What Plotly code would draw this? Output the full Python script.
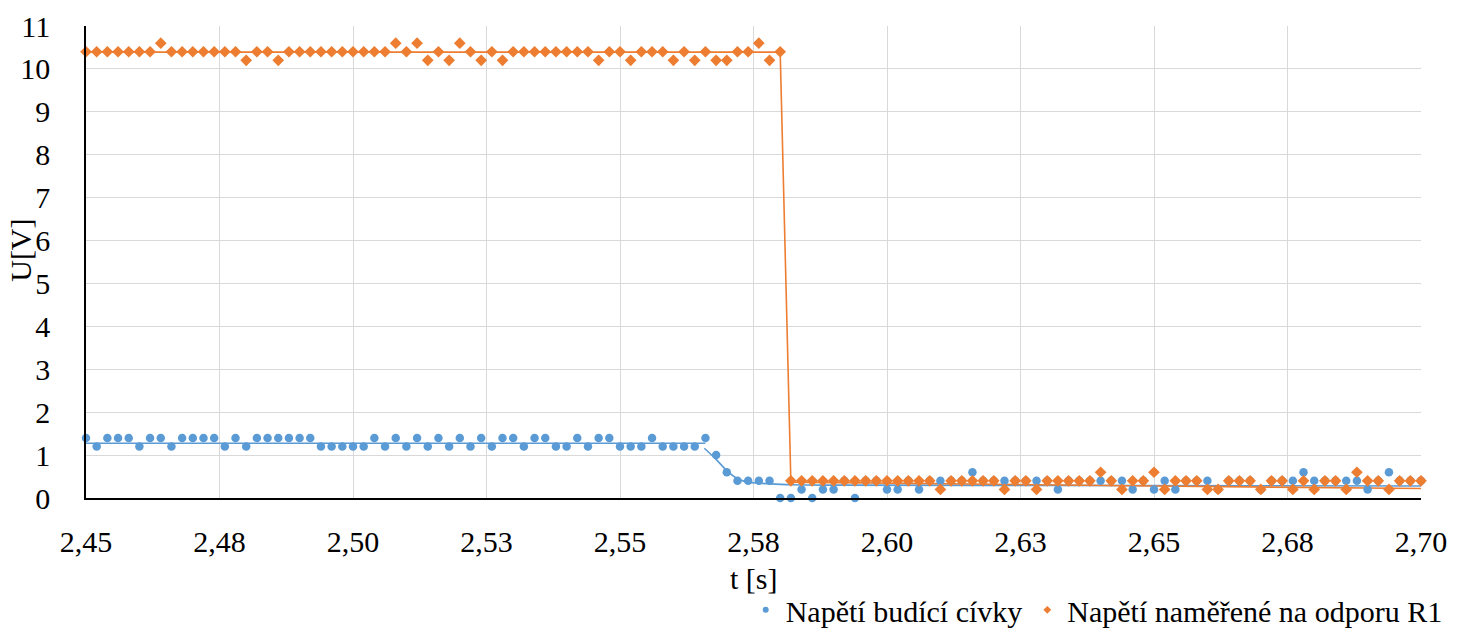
import plotly.graph_objects as go

# Sampling grid of the measurement
T_START = 2.45
T_STEP = 0.002
N_SAMPLES = 126

# Exciting coil voltage [V]
u_coil = [
    1.4, 1.2, 1.4, 1.4, 1.4, 1.2, 1.4, 1.4, 1.2, 1.4,
    1.4, 1.4, 1.4, 1.2, 1.4, 1.2, 1.4, 1.4, 1.4, 1.4,
    1.4, 1.4, 1.2, 1.2, 1.2, 1.2, 1.2, 1.4, 1.2, 1.4,
    1.2, 1.4, 1.2, 1.4, 1.2, 1.4, 1.2, 1.4, 1.2, 1.4,
    1.4, 1.2, 1.4, 1.4, 1.2, 1.2, 1.4, 1.2, 1.4, 1.4,
    1.2, 1.2, 1.2, 1.4, 1.2, 1.2, 1.2, 1.2, 1.4, 1.0,
    0.6, 0.4, 0.4, 0.4, 0.4, 0.0, 0.0, 0.2, 0.0, 0.2,
    0.2, 0.4, 0.0, 0.4, 0.4, 0.2, 0.2, 0.4, 0.2, 0.4,
    0.4, 0.4, 0.4, 0.6, 0.4, 0.4, 0.4, 0.4, 0.4, 0.4,
    0.4, 0.2, 0.4, 0.4, 0.4, 0.4, 0.4, 0.4, 0.2, 0.4,
    0.2, 0.4, 0.2, 0.4, 0.4, 0.4, 0.2, 0.4, 0.4, 0.4,
    0.2, 0.4, 0.4, 0.4, 0.6, 0.4, 0.4, 0.4, 0.4, 0.4,
    0.2, 0.4, 0.6, 0.4, 0.4, 0.4,
]

# Voltage measured on resistor R1 [V]
u_r1 = [
    10.4, 10.4, 10.4, 10.4, 10.4, 10.4, 10.4, 10.6, 10.4, 10.4,
    10.4, 10.4, 10.4, 10.4, 10.4, 10.2, 10.4, 10.4, 10.2, 10.4,
    10.4, 10.4, 10.4, 10.4, 10.4, 10.4, 10.4, 10.4, 10.4, 10.6,
    10.4, 10.6, 10.2, 10.4, 10.2, 10.6, 10.4, 10.2, 10.4, 10.2,
    10.4, 10.4, 10.4, 10.4, 10.4, 10.4, 10.4, 10.4, 10.2, 10.4,
    10.4, 10.2, 10.4, 10.4, 10.4, 10.2, 10.4, 10.2, 10.4, 10.2,
    10.2, 10.4, 10.4, 10.6, 10.2, 10.4, 0.4, 0.4, 0.4, 0.4,
    0.4, 0.4, 0.4, 0.4, 0.4, 0.4, 0.4, 0.4, 0.4, 0.4,
    0.2, 0.4, 0.4, 0.4, 0.4, 0.4, 0.2, 0.4, 0.4, 0.2,
    0.4, 0.4, 0.4, 0.4, 0.4, 0.6, 0.4, 0.2, 0.4, 0.4,
    0.6, 0.2, 0.4, 0.4, 0.4, 0.2, 0.2, 0.4, 0.4, 0.4,
    0.2, 0.4, 0.4, 0.2, 0.4, 0.2, 0.4, 0.4, 0.2, 0.6,
    0.4, 0.4, 0.2, 0.4, 0.4, 0.4,
]

t = [round(T_START + T_STEP * k, 3) for k in range(N_SAMPLES)]

# Fitted curves
coil_flat_t = [2.45, 2.566]
coil_flat_u = [1.275, 1.275]
coil_decay_t = [2.5658, 2.568, 2.570, 2.572, 2.574, 2.576, 2.578, 2.582, 2.59, 2.62, 2.70]
coil_decay_u = [1.16, 0.90, 0.64, 0.45, 0.37, 0.345, 0.33, 0.31, 0.30, 0.295, 0.28]
r1_fit_t = [2.45, 2.580, 2.582, 2.61, 2.65, 2.70]
r1_fit_u = [10.39, 10.39, 0.37, 0.33, 0.28, 0.22]

x_ticks = [2.45, 2.475, 2.50, 2.525, 2.55, 2.575, 2.60, 2.625, 2.65, 2.675, 2.70]
x_tick_text = ["2,45", "2,48", "2,50", "2,53", "2,55", "2,58", "2,60", "2,63", "2,65", "2,68", "2,70"]
y_ticks = list(range(0, 12))

BLUE = "#5B9BD5"
ORANGE = "#ED7D31"
FONT = "Times New Roman"
FS = 30

fig = go.Figure()

fig.add_trace(go.Scatter(x=coil_flat_t, y=coil_flat_u, mode="lines",
                         line=dict(color=BLUE, width=1.6), showlegend=False, hoverinfo="skip"))
fig.add_trace(go.Scatter(x=coil_decay_t, y=coil_decay_u, mode="lines", line_shape="spline",
                         line=dict(color=BLUE, width=1.6), showlegend=False, hoverinfo="skip"))
fig.add_trace(go.Scatter(x=r1_fit_t, y=r1_fit_u, mode="lines",
                         line=dict(color=ORANGE, width=1.6), showlegend=False, hoverinfo="skip"))

fig.add_trace(go.Scatter(x=t, y=u_coil, mode="markers", name="Napětí budící cívky",
                         marker=dict(color=BLUE, size=8.5, symbol="circle"), cliponaxis=False,
                         showlegend=False))
fig.add_trace(go.Scatter(x=t, y=u_r1, mode="markers", name="Napětí naměřené na odporu R1",
                         marker=dict(color=ORANGE, size=9, symbol="diamond"), cliponaxis=False,
                         showlegend=False))

# Legend entries with the small legend symbols
fig.add_trace(go.Scatter(x=[None], y=[None], mode="markers", name="Napětí budící cívky",
                         marker=dict(color=BLUE, size=6, symbol="circle")))
fig.add_trace(go.Scatter(x=[None], y=[None], mode="markers", name="Napětí naměřené na odporu R1",
                         marker=dict(color=ORANGE, size=6, symbol="diamond")))

fig.update_layout(
    width=1469, height=632,
    margin=dict(l=86, r=48, t=26, b=134, autoexpand=False),
    paper_bgcolor="white", plot_bgcolor="white",
    font=dict(family=FONT, size=FS, color="black"),
    showlegend=True,
    legend=dict(orientation="h", x=1.02, xanchor="right", y=-0.237, yanchor="middle",
                font=dict(family=FONT, size=FS, color="black"), itemwidth=30,
                bgcolor="rgba(0,0,0,0)"),
)

fig.add_annotation(text="t [s]", xref="paper", yref="paper", x=0.5, y=-0.17,
                   xanchor="center", yanchor="middle", showarrow=False,
                   font=dict(family=FONT, size=FS, color="black"))
fig.add_annotation(text="U[V]", xref="paper", yref="paper", x=-0.049, y=0.525,
                   xanchor="center", yanchor="middle", showarrow=False, textangle=-90,
                   font=dict(family=FONT, size=FS, color="black"))

fig.update_xaxes(range=[2.45, 2.70], tickvals=x_ticks, ticktext=x_tick_text,
                 showgrid=True, gridcolor="#d9d9d9", gridwidth=1.3,
                 showline=True, linecolor="black", linewidth=1.5, zeroline=False,
                 ticks="", ticklabelstandoff=16,
                 tickfont=dict(family=FONT, size=FS, color="black"))
fig.update_yaxes(range=[0, 11], tickvals=y_ticks,
                 showgrid=True, gridcolor="#d9d9d9", gridwidth=1.3,
                 showline=True, linecolor="black", linewidth=1.5, zeroline=False,
                 ticks="", ticklabelstandoff=28,
                 tickfont=dict(family=FONT, size=FS, color="black"))

fig.write_html("out.html")
